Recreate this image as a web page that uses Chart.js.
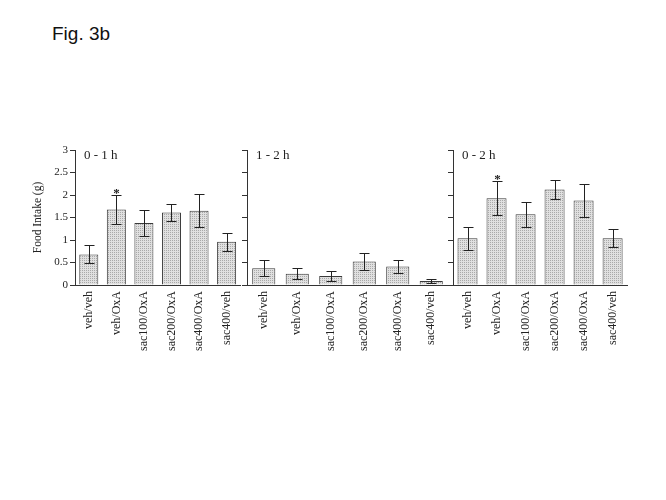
<!DOCTYPE html>
<html>
<head>
<meta charset="utf-8">
<title>Fig. 3b</title>
<script src="https://cdn.jsdelivr.net/npm/chart.js@4.4.1/dist/chart.umd.min.js"></script>
<style>
  html, body { margin: 0; padding: 0; background: #fff; }
  body { width: 666px; height: 500px; position: relative; overflow: hidden; }
  .fig { position: absolute; left: 52px; top: 23px; font-family: "Liberation Sans", Arial, sans-serif; font-size: 19px; color: #111; }
  canvas { position: absolute; top: 140px; }
</style>
</head>
<body>
<div class="fig">Fig. 3b</div>
<canvas id="p1" width="247" height="240" style="left:0px"></canvas>
<canvas id="p2" width="253" height="240" style="left:200px"></canvas>
<canvas id="p3" width="233" height="240" style="left:400px"></canvas>
<script>
// values (g)
const categories = ['veh/veh', 'veh/OxA', 'sac100/OxA', 'sac200/OxA', 'sac400/OxA', 'sac400/veh'];
const yTicks = [0, 0.5, 1, 1.5, 2, 2.5, 3];
const panelTitles = ['0 - 1 h', '1 - 2 h', '0 - 2 h'];

const intake0to1 = [0.68, 1.68, 1.38, 1.61, 1.65, 0.96];
const sem0to1 = [0.20, 0.32, 0.28, 0.19, 0.37, 0.20];
const sig0to1 = [false, true, false, false, false, false];

const intake1to2 = [0.37, 0.25, 0.20, 0.52, 0.41, 0.09];
const sem1to2 = [0.18, 0.12, 0.11, 0.19, 0.15, 0.04];
const sig1to2 = [false, false, false, false, false, false];

const intake0to2 = [1.04, 1.93, 1.57, 2.12, 1.88, 1.04];
const sem0to2 = [0.26, 0.38, 0.27, 0.22, 0.36, 0.20];
const sig0to2 = [false, true, false, false, false, false];

const serif = '"Liberation Serif", "Times New Roman", serif';
const ink = '#222';

// dotted grey fill like the print
const tile = document.createElement('canvas');
tile.width = 2;
tile.height = 2;
const tctx = tile.getContext('2d');
tctx.fillStyle = '#e0e0e0';
tctx.fillRect(0, 0, 2, 2);
tctx.fillStyle = '#a9a9a9';
tctx.fillRect(0, 0, 1, 1);

function overlay(title, values, errors, sig, extendBase) {
    return {
        id: 'overlay',
        afterDatasetsDraw(chart) {
            const { ctx, chartArea, scales: { y } } = chart;
            const meta = chart.getDatasetMeta(0);
            ctx.save();
            ctx.strokeStyle = ink;
            ctx.fillStyle = ink;
            ctx.lineWidth = 1;
            meta.data.forEach((bar, i) => {
                const x = Math.round(bar.x) + 0.5;
                const yt = Math.round(y.getPixelForValue(values[i] + errors[i])) + 0.5;
                const yb = Math.round(y.getPixelForValue(values[i] - errors[i])) + 0.5;
                ctx.beginPath();
                ctx.moveTo(x, yt); ctx.lineTo(x, yb);
                ctx.moveTo(x - 5, yt); ctx.lineTo(x + 5, yt);
                ctx.moveTo(x - 5, yb); ctx.lineTo(x + 5, yb);
                ctx.stroke();
                if (sig[i]) {
                    ctx.font = 'bold 13px ' + serif;
                    ctx.textAlign = 'center';
                    ctx.textBaseline = 'alphabetic';
                    ctx.fillText('*', x, yt + 1);
                }
            });
            ctx.font = '13px ' + serif;
            ctx.textAlign = 'left';
            ctx.textBaseline = 'middle';
            ctx.fillText(title, chartArea.left + 9, chartArea.top + 6);
            if (extendBase) {
                const yb = Math.round(chartArea.bottom) + 0.5;
                ctx.strokeStyle = '#333';
                ctx.beginPath();
                ctx.moveTo(chartArea.right, yb);
                ctx.lineTo(chartArea.right + extendBase, yb);
                ctx.stroke();
            }
            ctx.restore();
        }
    };
}

function makePanel(id, title, values, errors, sig, opts) {
    return new Chart(document.getElementById(id), {
        type: 'bar',
        data: {
            labels: categories,
            datasets: [{
                data: values,
                backgroundColor: (c) => c.chart.ctx.createPattern(tile, 'repeat'),
                borderColor: '#3a3a3a',
                borderWidth: 1,
                barPercentage: 0.69,
                categoryPercentage: 1
            }]
        },
        options: {
            responsive: false,
            animation: false,
            layout: { padding: { top: 10, right: opts.padRight || 0, left: 0, bottom: 0 } },
            plugins: { legend: { display: false }, tooltip: { enabled: false } },
            scales: {
                x: {
                    grid: { drawOnChartArea: false, drawTicks: false },
                    border: { display: true, color: '#333', width: 1 },
                    ticks: {
                        minRotation: 90,
                        maxRotation: 90,
                        autoSkip: false,
                        padding: 6,
                        color: ink,
                        font: { family: serif, size: 12 }
                    },
                    afterFit: (s) => { s.height = 95; }
                },
                y: {
                    min: 0,
                    max: 3,
                    afterBuildTicks: (s) => { s.ticks = yTicks.map(v => ({ value: v })); },
                    grid: { drawOnChartArea: false, drawTicks: true, tickLength: 5, color: '#333' },
                    border: { display: true, color: '#333', width: 1 },
                    ticks: {
                        padding: 2,
                        callback: (v) => String(v),
                        color: opts.showLabels ? ink : 'rgba(0,0,0,0)',
                        font: { family: serif, size: 11 }
                    },
                    title: {
                        display: !!opts.showLabels,
                        text: 'Food Intake (g)',
                        color: ink,
                        font: { family: serif, size: 11.5 },
                        padding: { top: 31, bottom: 0 }
                    },
                    afterFit: (s) => { s.width = opts.yWidth; }
                }
            }
        },
        plugins: [overlay(title, values, errors, sig, opts.padRight || 0)]
    });
}

makePanel('p1', panelTitles[0], intake0to1, sem0to1, sig0to1, { yWidth: 75, showLabels: true });
makePanel('p2', panelTitles[1], intake1to2, sem1to2, sig1to2, { yWidth: 47, padRight: 5 });
makePanel('p3', panelTitles[2], intake0to2, sem0to2, sig0to2, { yWidth: 53 });
</script>
</body>
</html>
